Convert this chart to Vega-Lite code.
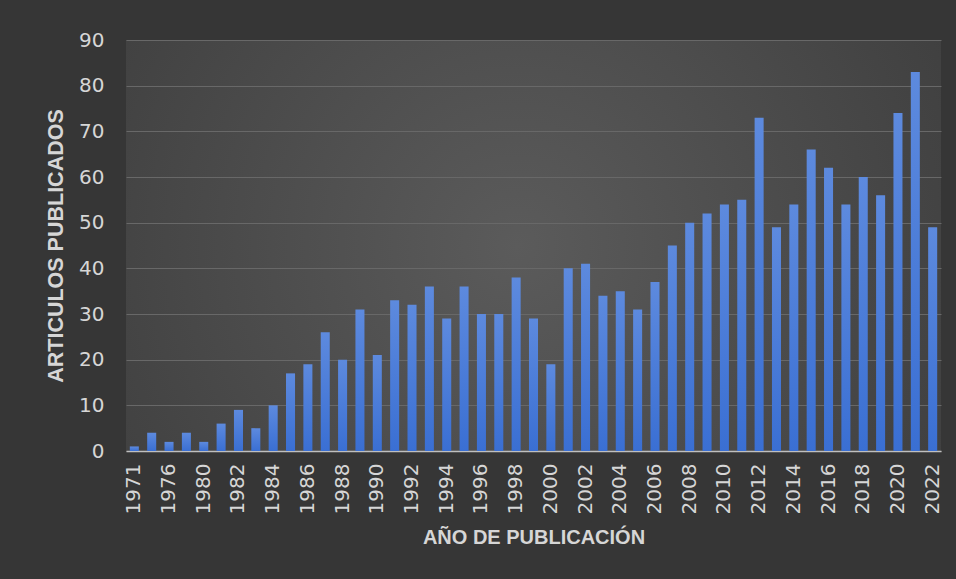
{
  "$schema": "https://vega.github.io/schema/vega-lite/v6.json",
  "width": 815,
  "height": 411,
  "autosize": {"type": "none"},
  "padding": {"left": 126, "top": 40, "right": 15, "bottom": 128},
  "background": "#363636",
  "data": {
    "values": [
      {"year": "1971", "count": 1},
      {"year": "1975", "count": 4},
      {"year": "1976", "count": 2},
      {"year": "1978", "count": 4},
      {"year": "1980", "count": 2},
      {"year": "1981", "count": 6},
      {"year": "1982", "count": 9},
      {"year": "1983", "count": 5},
      {"year": "1984", "count": 10},
      {"year": "1985", "count": 17},
      {"year": "1986", "count": 19},
      {"year": "1987", "count": 26},
      {"year": "1988", "count": 20},
      {"year": "1989", "count": 31},
      {"year": "1990", "count": 21},
      {"year": "1991", "count": 33},
      {"year": "1992", "count": 32},
      {"year": "1993", "count": 36},
      {"year": "1994", "count": 29},
      {"year": "1995", "count": 36},
      {"year": "1996", "count": 30},
      {"year": "1997", "count": 30},
      {"year": "1998", "count": 38},
      {"year": "1999", "count": 29},
      {"year": "2000", "count": 19},
      {"year": "2001", "count": 40},
      {"year": "2002", "count": 41},
      {"year": "2003", "count": 34},
      {"year": "2004", "count": 35},
      {"year": "2005", "count": 31},
      {"year": "2006", "count": 37},
      {"year": "2007", "count": 45},
      {"year": "2008", "count": 50},
      {"year": "2009", "count": 52},
      {"year": "2010", "count": 54},
      {"year": "2011", "count": 55},
      {"year": "2012", "count": 73},
      {"year": "2013", "count": 49},
      {"year": "2014", "count": 54},
      {"year": "2015", "count": 66},
      {"year": "2016", "count": 62},
      {"year": "2017", "count": 54},
      {"year": "2018", "count": 60},
      {"year": "2019", "count": 56},
      {"year": "2020", "count": 74},
      {"year": "2021", "count": 83},
      {"year": "2022", "count": 49}
    ]
  },
  "mark": {
    "type": "bar",
    "color": {
      "gradient": "linear",
      "x1": 0, "y1": 0, "x2": 0, "y2": 1,
      "stops": [
        {"offset": 0, "color": "#5d8ade"},
        {"offset": 1, "color": "#3a6fd3"}
      ]
    }
  },
  "encoding": {
    "x": {
      "field": "year",
      "type": "ordinal",
      "sort": "ascending",
      "scale": {"paddingInner": 0.48, "paddingOuter": 0.22},
      "axis": {
        "title": "AÑO DE PUBLICACIÓN",
        "values": ["1971", "1976", "1980", "1982", "1984", "1986", "1988", "1990", "1992", "1994", "1996", "1998", "2000", "2002", "2004", "2006", "2008", "2010", "2012", "2014", "2016", "2018", "2020", "2022"],
        "labelAngle": -90,
        "labelFont": "DejaVu Sans",
        "labelFontSize": 20,
        "labelColor": "#d6d6d6",
        "labelPadding": 12,
        "ticks": false,
        "domain": true,
        "domainColor": "#bfbfbf",
        "domainWidth": 1.5,
        "grid": false,
        "titleFont": "Liberation Sans",
        "titleFontWeight": "bold",
        "titleFontSize": 20,
        "titleColor": "#d6d6d6",
        "titlePadding": 14
      }
    },
    "y": {
      "field": "count",
      "type": "quantitative",
      "scale": {"domain": [0, 90]},
      "axis": {
        "title": "ARTICULOS PUBLICADOS",
        "values": [0, 10, 20, 30, 40, 50, 60, 70, 80, 90],
        "labelFont": "DejaVu Sans",
        "labelFontSize": 20,
        "labelColor": "#d6d6d6",
        "labelPadding": 22,
        "ticks": false,
        "domain": false,
        "grid": true,
        "gridColor": "#686868",
        "gridWidth": 1.2,
        "titleFont": "Liberation Sans",
        "titleFontWeight": "bold",
        "titleFontSize": 21.5,
        "titleColor": "#d6d6d6",
        "titlePadding": 11
      }
    }
  },
  "config": {
    "view": {
      "stroke": null,
      "fill": {
        "gradient": "radial",
        "x1": 0.48, "y1": 0.5, "x2": 0.48, "y2": 0.5,
        "r1": 0, "r2": 0.75,
        "stops": [
          {"offset": 0, "color": "#5b5b5b"},
          {"offset": 0.66, "color": "#444444"},
          {"offset": 1, "color": "#393939"}
        ]
      }
    }
  }
}
